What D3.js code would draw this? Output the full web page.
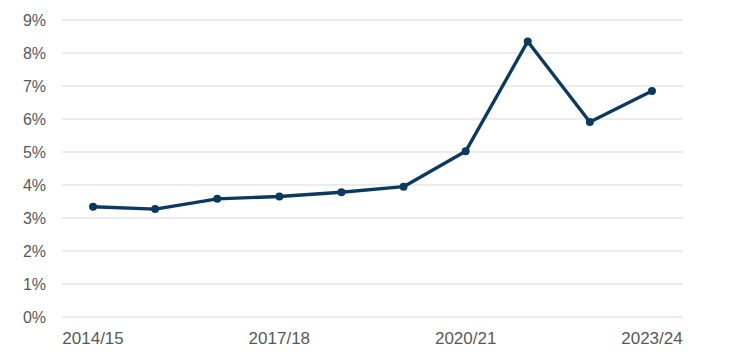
<!DOCTYPE html>
<html>
<head>
<meta charset="UTF-8">
<title></title>
<style>
  body { margin: 0; background: #fff; }
  text { font-family: "Liberation Sans", Arial, sans-serif; fill: #595959; }
</style>
</head>
<body>
<svg width="735" height="361"></svg>
<script src="https://cdn.jsdelivr.net/npm/d3@7/dist/d3.min.js"></script>
<script>
var years = ["2014/15", "2015/16", "2016/17", "2017/18", "2018/19", "2019/20", "2020/21", "2021/22", "2022/23", "2023/24"];
var rates = [3.34, 3.27, 3.58, 3.65, 3.78, 3.95, 5.02, 8.35, 5.91, 6.85];
var yTicks = [0, 1, 2, 3, 4, 5, 6, 7, 8, 9];
var xLabels = ["2014/15", "2017/18", "2020/21", "2023/24"];

var svg = d3.select("svg");
// plot area (note: "top" is reserved on window, so use plotTop)
var plotLeft = 62, plotRight = 683, plotTop = 20, plotBottom = 317;

var x = d3.scalePoint().domain(years).range([plotLeft, plotRight]).padding(0.5);
var y = d3.scaleLinear().domain([0, 9]).range([plotBottom, plotTop]);

// gridlines
svg.append("g").selectAll("line")
  .data(yTicks).enter().append("line")
  .attr("x1", plotLeft).attr("x2", plotRight)
  .attr("y1", function(d){ return y(d); })
  .attr("y2", function(d){ return y(d); })
  .attr("stroke", "#d9d9d9").attr("stroke-width", 1);

// y labels
svg.append("g").selectAll("text")
  .data(yTicks).enter().append("text")
  .attr("x", 46)
  .attr("y", function(d){ return y(d); })
  .attr("dy", "0.36em")
  .attr("text-anchor", "end")
  .attr("font-size", "16px")
  .text(function(d){ return d + "%"; });

// x labels
svg.append("g").selectAll("text")
  .data(xLabels).enter().append("text")
  .attr("x", function(d){ return x(d); })
  .attr("y", 344)
  .attr("text-anchor", "middle")
  .attr("font-size", "17px")
  .text(function(d){ return d; });

var pts = years.map(function(yr, i){ return [yr, rates[i]]; });

var line = d3.line()
  .x(function(d){ return x(d[0]); })
  .y(function(d){ return y(d[1]); });

svg.append("path")
  .datum(pts)
  .attr("d", line)
  .attr("fill", "none")
  .attr("stroke", "#0c3a5e")
  .attr("stroke-width", 3.4)
  .attr("stroke-linejoin", "round");

svg.append("g").selectAll("circle")
  .data(pts).enter().append("circle")
  .attr("cx", function(d){ return x(d[0]); })
  .attr("cy", function(d){ return y(d[1]); })
  .attr("r", 4)
  .attr("fill", "#0c3a5e");
</script>
</body>
</html>
